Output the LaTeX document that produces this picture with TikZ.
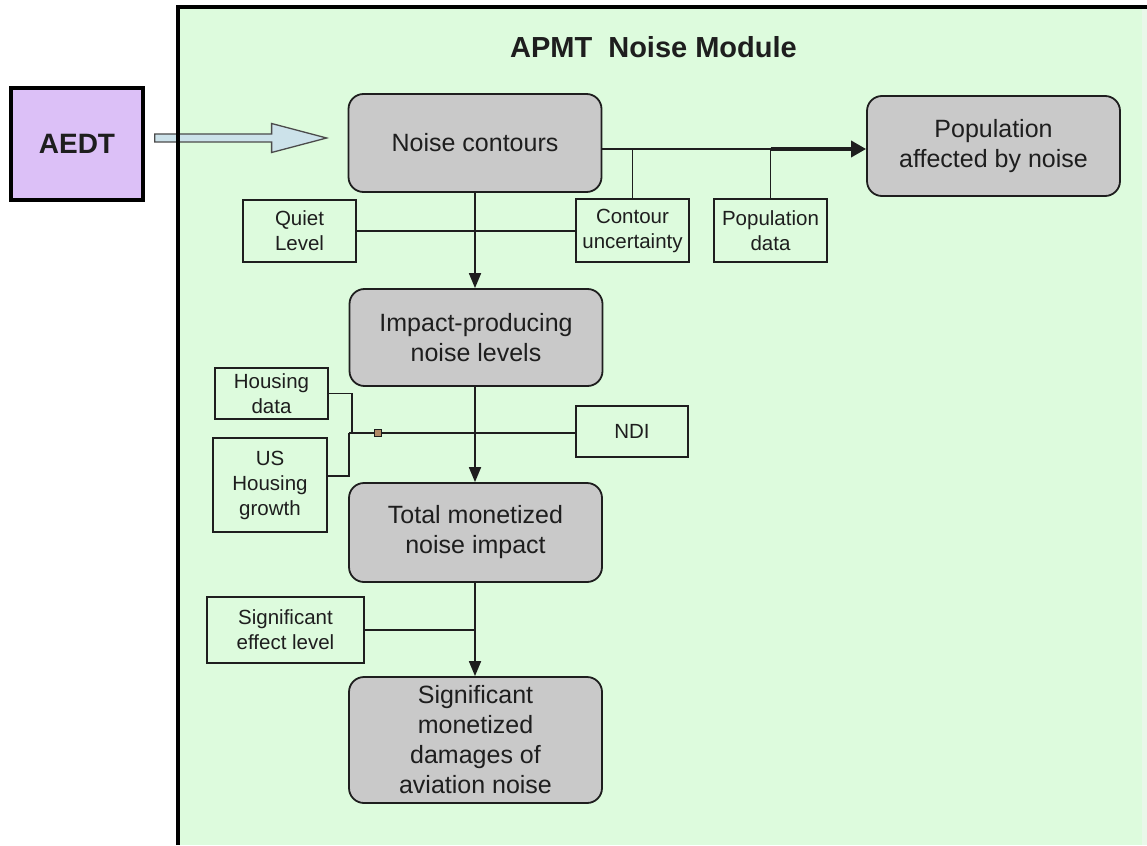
\documentclass[tikz,border=0pt]{standalone}
\usepackage{fontspec}
\setmainfont{Liberation Sans}
\usetikzlibrary{arrows.meta,calc}
\definecolor{bggreen}{HTML}{DDFBDD}
\definecolor{edgegreen}{HTML}{E9F8E9}
\definecolor{boxgray}{HTML}{C9C9C9}
\definecolor{lilac}{HTML}{DCC0F7}
\definecolor{hollowblue}{HTML}{CCE2EA}
\definecolor{sqbrown}{HTML}{B08A66}
\definecolor{inkc}{HTML}{1E1E1E}
\tikzset{
  mainbox/.style={draw=inkc, line width=1.8pt, fill=boxgray, rounded corners=15pt,
    align=center, text=inkc, inner sep=0pt, minimum width=253pt,
    font=\fontsize{25}{30}\selectfont},
  smallbox/.style={draw=inkc, line width=1.6pt, align=center, text=inkc, inner sep=0pt,
    font=\fontsize{20.5}{25}\selectfont},
  conn/.style={draw=inkc, line width=1.8pt},
  tip/.style={-{Triangle[length=15pt,width=12pt]}},
  hollowarrow/.style={draw=inkc!80, line width=1.3pt, fill=hollowblue},
  junction/.style={draw=inkc, line width=1pt, fill=sqbrown, minimum size=7pt, inner sep=0pt}
}
\begin{document}
\begin{tikzpicture}[x=1pt,y=-1pt]
% canvas
\useasboundingbox (0,0) rectangle (1147,845);
\fill[white] (0,0) rectangle (1147,845);
\fill[bggreen] (178,7) rectangle (1142,845);
\fill[edgegreen] (1142,7) rectangle (1147,845);

% title
\node[anchor=west, inner sep=0pt, text=inkc, font=\fontsize{29}{34}\bfseries] (title) at (510,47) {APMT\hspace{0.55em}Noise Module};

% AEDT
\node[draw=black, line width=3.5pt, fill=lilac, minimum width=132pt, minimum height=112pt,
  inner sep=0pt, text=inkc, font=\fontsize{28}{32}\bfseries] (aedt) at (77,144) {AEDT};

% main boxes
\node[mainbox, minimum height=98pt] (nc) at (475,143) {Noise contours};
\node[mainbox, minimum height=100pt] (pop) at (993.5,146) {Population\\affected by noise};
\node[mainbox, minimum height=97pt] (ip) at (476,337.5) {Impact-producing\\noise levels};
\node[mainbox, minimum height=99pt] (tm) at (475.5,532.5) {Total monetized\\noise impact};
\node[mainbox, minimum height=126pt] (sm) at (475.5,740) {Significant\\monetized\\damages of\\aviation noise};

% small boxes
\node[smallbox, minimum width=113pt, minimum height=62pt] (ql) at (299.5,231) {Quiet\\Level};
\node[smallbox, minimum width=113pt, minimum height=63pt] (cu) at (632.5,230.5) {Contour\\uncertainty};
\node[smallbox, minimum width=113pt, minimum height=63pt] (pd) at (770.5,230.5) {Population\\data};
\node[smallbox, minimum width=113pt, minimum height=51pt] (hd) at (271.5,393.5) {Housing\\data};
\node[smallbox, minimum width=114pt, minimum height=94pt] (us) at (270,485) {US\\Housing\\growth};
\node[smallbox, minimum width=112pt, minimum height=51pt] (nd) at (632,431.5) {NDI};
\node[smallbox, minimum width=157pt, minimum height=66pt] (se) at (285.5,630) {Significant\\effect level};

% hollow arrow AEDT -> Noise contours
\coordinate (ha) at ($(aedt.east)+(10,-6)$);
\coordinate (hb) at ($(nc.west |- ha)+(-21,0)$);
\draw[hollowarrow] ($(ha)+(0,-4)$) -- ($(hb)+(-55,-4)$) -- ($(hb)+(-55,-14.5)$) -- (hb)
  -- ($(hb)+(-55,14.5)$) -- ($(hb)+(-55,4)$) -- ($(ha)+(0,4)$) -- cycle;

% Noise contours -> Population affected
\coordinate (j1) at ($(nc.east)+(0,6)$);
\draw[conn] (j1) -- (pd.north |- j1);
\draw[conn, line width=3.5pt, -{Triangle[length=15pt,width=16pt]}] (pd.north |- j1) -- (pop.west |- j1);
\draw[conn] (cu.north) -- (cu.north |- j1);
\draw[conn] (pd.north) -- (pd.north |- j1);

% Noise contours -> Impact-producing
\draw[conn] (ql.east) -- (cu.west |- ql.east);
\draw[conn, tip] (nc.south) -- (nc.south |- ip.north);

% Impact-producing -> Total monetized
\coordinate (hj) at (349,433);
\draw[conn] (hd.east) -| ($(hj)+(3,0)$);
\draw[conn] ($(us.east)+(0,-9)$) -| (hj);
\draw[conn] (hj) -- (nd.west |- hj);
\node[junction] (sqn) at ($(hj)+(29,0)$) {};
\draw[conn, tip] (ip.south -| nc.south) -- (nc.south |- tm.north);

% Total monetized -> Significant
\draw[conn] (se.east) -- (se.east -| nc.south);
\draw[conn, tip] (tm.south -| nc.south) -- (nc.south |- sm.north);

% module frame (drawn over the input arrow)
\draw[black, line width=3.5pt] (178,845) -- (178,7) -- (1147,7);
\end{tikzpicture}
\end{document}
